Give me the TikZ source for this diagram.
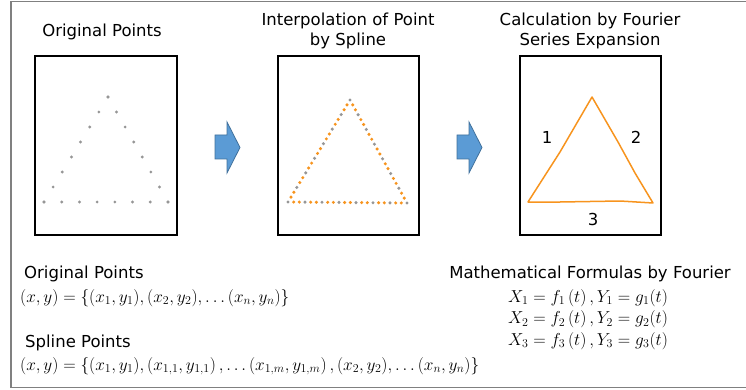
\documentclass[tikz,border=0pt]{standalone}
\usepackage{amsmath,amssymb}
\usepackage{fontspec}
\setmainfont{DejaVu Sans}
\usetikzlibrary{calc}

\definecolor{framegray}{RGB}{128,128,128}
\definecolor{ptgray}{RGB}{150,150,150}
\definecolor{splorange}{RGB}{247,148,30}
\definecolor{arrowfill}{RGB}{91,155,213}
\definecolor{arrowline}{RGB}{65,113,156}

\begin{document}
\begin{tikzpicture}[x=1pt,y=-1pt,
  box/.style={draw=black,line width=1.6pt},
  title/.style={font=\fontsize{16.5}{20.5}\selectfont,align=center,inner sep=0pt},
  lbl/.style={font=\fontsize{16.5}{20}\selectfont,anchor=west,inner sep=0pt},
  formula/.style={font=\fontsize{17.6}{21.5}\selectfont,inner sep=0pt},
  blockarrow/.style={draw=arrowline,fill=arrowfill,line width=0.8pt}]
\useasboundingbox (0,0) rectangle (746,390);
\draw[framegray,line width=1.5pt] (748,1.5) -- (11,1.5) -- (11,387.5) -- (748,387.5);

\node[title] (t-orig) at (102,32) {Original Points};
\node[title] (t-spline) at (348,31) {Interpolation of Point\\by Spline};
\node[title] (t-fourier) at (590,31) {Calculation by Fourier\\Series Expansion};

\draw[box] (35,56) rectangle (177,235);
\draw[box] (278,56) rectangle (419,235);
\draw[box] (520,56) rectangle (661,235);

\draw[blockarrow] (215,135) -- (227,135) -- (227,122) -- (240,147.5) -- (227,173) -- (227,159) -- (215,159) -- cycle;
\draw[blockarrow] (457,135) -- (469,135) -- (469,122) -- (482,147.5) -- (469,173) -- (469,159) -- (457,159) -- cycle;

\foreach \i in {0,...,7}{
  \fill[ptgray] ($(44,202)!\i/7!(108,97)$) circle(1.6pt);
  \fill[ptgray] ($(108,97)!\i/7!(168,202)$) circle(1.6pt);
  \fill[ptgray] ($(168,202)!\i/7!(44,202)$) circle(1.6pt);
}

\foreach \i in {0,...,20}{
  \pgfmathtruncatemacro\r{mod(\i,3)}
  \ifnum\r=0 \def\dotcol{ptgray}\else\def\dotcol{splorange}\fi
  \fill[\dotcol] ($(288,202)!\i/21!(350,100)$) circle(1.7pt);
  \fill[\dotcol] ($(350,100)!\i/21!(407,203)$) circle(1.7pt);
  \fill[\dotcol] ($(407,203)!\i/21!(288,202)$) circle(1.7pt);
}

\draw[splorange,line width=1.5pt,line join=round] (528,202) -- (560,152) -- (592,97) -- (618,142) -- (635,173) -- (653,203) -- (620,201) -- (560,202) -- cycle;
\node[title] (side1) at (547,137) {1};
\node[title] (side2) at (636,137) {2};
\node[title] (side3) at (593,219) {3};

\node[lbl] (orig-lbl) at (24,274) {Original Points};
\node[formula,anchor=west] (orig-eq) at (20,298) {$(x,y)=\{(x_1,y_1),(x_2,y_2),\ldots(x_n,y_n)\}$};
\node[lbl] (spl-lbl) at (25,343) {Spline Points};
\node[formula,anchor=west] (spl-eq) at (20,366) {$(x,y)=\{(x_1,y_1),\left(x_{1,1},y_{1,1}\right),\ldots\left(x_{1,m},y_{1,m}\right),(x_2,y_2),\ldots(x_n,y_n)\}$};
\node[title] (four-lbl) at (590,274) {Mathematical Formulas by Fourier};
\node[formula,align=center] (four-eq) at (588,319.5) {$X_1=f_1\,(t)\,,Y_1=g_1(t)$\\$X_2=f_2\,(t)\,,Y_2=g_2(t)$\\$X_3=f_3\,(t)\,,Y_3=g_3(t)$};
\end{tikzpicture}
\end{document}
